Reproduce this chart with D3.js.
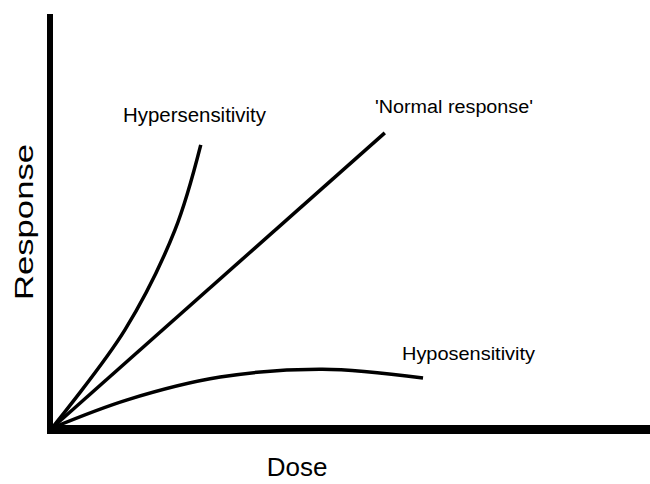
<!DOCTYPE html>
<html>
<head>
<meta charset="utf-8">
<script src="https://cdn.jsdelivr.net/npm/d3@7"></script>
<style>
  body { margin: 0; background: #fff; }
  text { font-family: "Liberation Sans", Arial, sans-serif; fill: #000; }
</style>
</head>
<body>
<div id="chart"></div>
<script>
// Dose-response curves (arbitrary units)
var normalDose = [0, 5.66];
var normalResp = [0, 7.13];

var hyperDose = [0, 1.24, 2.09, 2.53];
var hyperResp = [0, 2.37, 4.78, 6.84];

var hypoDose = [0, 1.28, 2.86, 4.6, 6.31];
var hypoResp = [0, 0.68, 1.23, 1.42, 1.21];

var labels = ["Hypersensitivity", "'Normal response'", "Hyposensitivity"];

var svgWidth = 650, svgHeight = 484;

var svg = d3.select("#chart")
  .append("svg")
  .attr("width", svgWidth)
  .attr("height", svgHeight);

// scales
var x = d3.scaleLinear().domain([0, 10]).range([52, 640]);
var y = d3.scaleLinear().domain([0, 10]).range([428, 14]);

// axes drawn as plain thick lines, no ticks
svg.append("line")
  .attr("x1", 50).attr("x2", 50)
  .attr("y1", y(10)).attr("y2", 434)
  .attr("stroke", "#000").attr("stroke-width", 6);

svg.append("line")
  .attr("x1", 47).attr("x2", svgWidth)
  .attr("y1", 429.5).attr("y2", 429.5)
  .attr("stroke", "#000").attr("stroke-width", 9);

function toPoints(xs, ys) {
  return xs.map((d, i) => [d, ys[i]]);
}

var line = d3.line()
  .x(d => x(d[0]))
  .y(d => y(d[1]))
  .curve(d3.curveCatmullRom.alpha(0.5));

var series = [
  toPoints(hyperDose, hyperResp),
  toPoints(normalDose, normalResp),
  toPoints(hypoDose, hypoResp)
];

svg.selectAll("path.curve")
  .data(series)
  .enter()
  .append("path")
  .attr("class", "curve")
  .attr("d", line)
  .attr("fill", "none")
  .attr("stroke", "#000")
  .attr("stroke-width", 3.5);

// curve labels
svg.append("text")
  .attr("x", 123).attr("y", 122)
  .attr("font-size", 20)
  .attr("textLength", 143).attr("lengthAdjust", "spacingAndGlyphs")
  .text(labels[0]);

svg.append("text")
  .attr("x", 375).attr("y", 113)
  .attr("font-size", 18)
  .attr("textLength", 158).attr("lengthAdjust", "spacingAndGlyphs")
  .text(labels[1]);

svg.append("text")
  .attr("x", 402).attr("y", 360)
  .attr("font-size", 18.5)
  .attr("textLength", 133).attr("lengthAdjust", "spacingAndGlyphs")
  .text(labels[2]);

// axis titles
svg.append("text")
  .attr("x", 297).attr("y", 476)
  .attr("text-anchor", "middle")
  .attr("font-size", 26)
  .text("Dose");

svg.append("text")
  .attr("transform", "translate(33, 222) rotate(-90)")
  .attr("text-anchor", "middle")
  .attr("font-size", 26)
  .attr("textLength", 156).attr("lengthAdjust", "spacingAndGlyphs")
  .text("Response");
</script>
</body>
</html>
